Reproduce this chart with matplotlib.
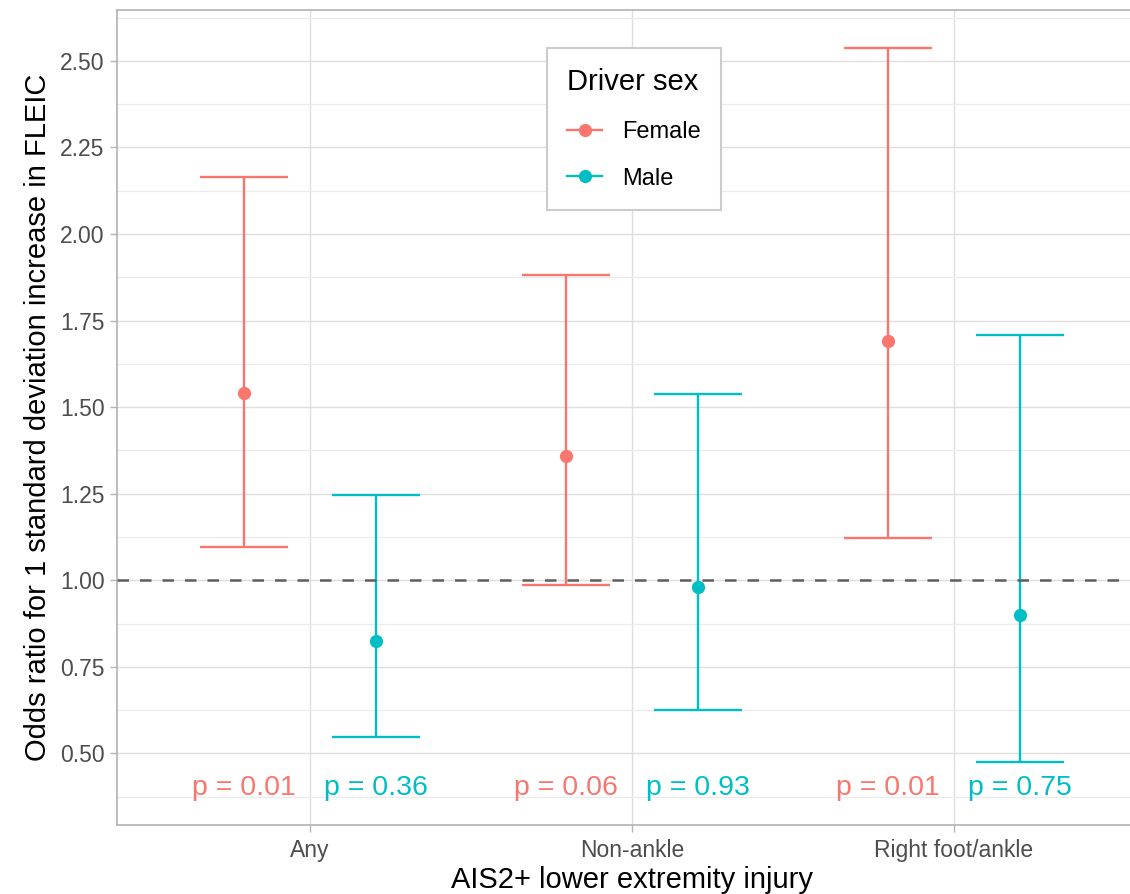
import numpy as np
import matplotlib.pyplot as plt
from matplotlib.lines import Line2D

plt.rcParams['font.family'] = ['Liberation Sans', 'DejaVu Sans']

# Odds ratios with 95% CI by injury type and driver sex
injury = ["Any", "Non-ankle", "Right foot/ankle"]
female_or = [1.54, 1.36, 1.69]
female_lo = [1.095, 0.985, 1.122]
female_hi = [2.165, 1.883, 2.538]
male_or = [0.824, 0.98, 0.90]
male_lo = [0.546, 0.626, 0.476]
male_hi = [1.245, 1.539, 1.709]
female_p = ["p = 0.01", "p = 0.06", "p = 0.01"]
male_p = ["p = 0.36", "p = 0.93", "p = 0.75"]
p_y = 0.4

col_f = "#F8766D"
col_m = "#00BFC4"

fig = plt.figure(figsize=(11.3, 8.94), dpi=100)
ax = fig.add_axes([117/1130, 69/894, 1030/1130, 815/894])

x = np.arange(1, len(injury) + 1)
dodge = 0.205
capw = 0.136

for xs, est, lo, hi, col in [(x - dodge, female_or, female_lo, female_hi, col_f),
                             (x + dodge, male_or, male_lo, male_hi, col_m)]:
    ax.vlines(xs, lo, hi, color=col, lw=1.7, zorder=3)
    ax.hlines(lo, xs - capw, xs + capw, color=col, lw=1.7, zorder=3)
    ax.hlines(hi, xs - capw, xs + capw, color=col, lw=1.7, zorder=3)
    ax.plot(xs, est, 'o', color=col, ms=8.5, zorder=4)

for i in range(len(injury)):
    ax.text(x[i] - dodge, p_y, female_p[i], color=col_f, fontsize=20.5,
            ha='center', va='center', zorder=5)
    ax.text(x[i] + dodge, p_y, male_p[i], color=col_m, fontsize=20.5,
            ha='center', va='center', zorder=5)

ax.axhline(1.0, color='#5E5E5E', lw=1.8, ls=(0, (4.6, 4.4)), zorder=5)

ax.set_xlim(0.4, 3.6)
ax.set_ylim(0.293, 2.647)
ax.set_xticks(x)
ax.set_xticklabels(injury)
ax.set_yticks(np.arange(0.5, 2.51, 0.25))
ax.set_yticks(np.arange(0.375, 2.64, 0.25), minor=True)
ax.yaxis.set_major_formatter(lambda v, p: f"{v:.2f}")

ax.grid(True, which='major', color='#DEDEDE', lw=1.0, zorder=0)
ax.grid(True, which='minor', axis='y', color='#EBEBEB', lw=0.9, zorder=0)
ax.set_axisbelow(True)
for s in ax.spines.values():
    s.set_color('#B3B3B3')
    s.set_linewidth(1.2)

ax.tick_params(axis='both', which='major', colors='#B3B3B3', length=5,
               width=1.0, labelcolor='#4D4D4D', labelsize=16.5)
ax.tick_params(axis='x', pad=5)
ax.tick_params(axis='y', pad=4)
ax.tick_params(axis='y', which='minor', length=0)

ax.set_xlabel("AIS2+ lower extremity injury", fontsize=21, labelpad=3)
ax.set_ylabel("Odds ratio for 1 standard deviation increase in FLEIC",
              fontsize=21, labelpad=6)

handles = [Line2D([], [], color=col_f, lw=1.7, marker='o', ms=8.5),
           Line2D([], [], color=col_m, lw=1.7, marker='o', ms=8.5)]
leg = ax.legend(handles, ["Female", "Male"], title="Driver sex",
                loc='upper left', bbox_to_anchor=(547/1130, 1 - 48/894),
                bbox_transform=fig.transFigure, borderaxespad=0,
                fontsize=17, title_fontsize=21, frameon=True, fancybox=False,
                handlelength=1.5, handletextpad=0.85, labelspacing=1.05,
                borderpad=0.85, alignment='left')
leg.get_frame().set_edgecolor('#CCCCCC')
leg.get_frame().set_linewidth(1.5)
leg.get_frame().set_alpha(1)

fig.savefig("out.png", dpi=100)
